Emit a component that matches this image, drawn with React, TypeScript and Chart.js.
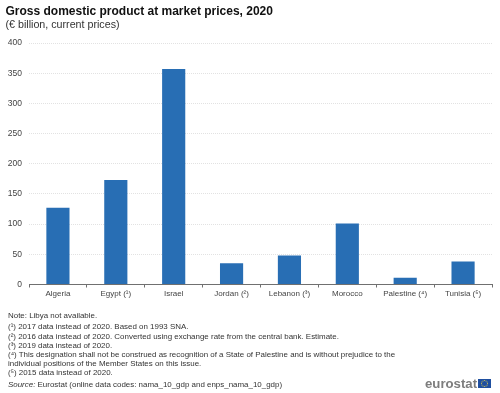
import React, { useEffect, useRef } from "react";
import { Chart, registerables } from "chart.js";

Chart.register(...registerables);

const categories = ["Algeria", "Egypt (¹)", "Israel", "Jordan (²)", "Lebanon (³)", "Morocco", "Palestine (⁴)", "Tunisia (⁵)"];
const gdpValues = [127, 173, 357, 35, 48, 101, 11, 38];
const yTicks = [0, 50, 100, 150, 200, 250, 300, 350, 400];
const titleText = "Gross domestic product at market prices, 2020";
const subtitleText = "(€ billion, current prices)";
const noteLines = [
  "(¹) 2017 data instead of 2020. Based on 1993 SNA.",
  "(²) 2016 data instead of 2020. Converted using exchange rate from the central bank. Estimate.",
  "(³) 2019 data instead of 2020.",
  "(⁴) This designation shall not be construed as recognition of a State of Palestine and is without prejudice to the",
  "individual positions of the Member States on this issue.",
  "(⁵) 2015 data instead of 2020.",
];
const font = '"Liberation Sans", Arial, sans-serif';

const txt = (top: number, left: number, size: number, extra: React.CSSProperties = {}): React.CSSProperties => ({
  position: "absolute", top, left, fontSize: size, lineHeight: "12px", whiteSpace: "nowrap", color: "#333", fontFamily: font, ...extra,
});

export default function App() {
  const ref = useRef<HTMLCanvasElement>(null);
  useEffect(() => {
    const chart = new Chart(ref.current!, {
      type: "bar",
      data: {
        labels: categories,
        datasets: [{ data: gdpValues, backgroundColor: "#286EB4", barPercentage: 0.4, categoryPercentage: 1 }],
      },
      options: {
        responsive: false,
        animation: false,
        layout: { padding: { top: 43, right: 8, left: 0, bottom: 0 } },
        plugins: { legend: { display: false }, tooltip: { enabled: false } },
        scales: {
          x: {
            afterFit: (s: any) => { s.height = 393 - 284.5; },
            grid: { display: true, drawOnChartArea: false, drawTicks: true, tickLength: 3, color: "#707070", offset: true },
            border: { color: "#707070" },
            ticks: { color: "#444", font: { family: font, size: 8 }, maxRotation: 0, autoSkip: false, padding: 1 },
          },
          y: {
            min: 0, max: 400,
            afterFit: (s: any) => { s.width = 29; },
            afterBuildTicks: (s: any) => { s.ticks = yTicks.map((value) => ({ value })); },
            grid: { color: "#E2E2E2", drawTicks: false },
            border: { display: false, dash: [1, 1] },
            ticks: { color: "#444", font: { family: font, size: 8.5 }, padding: 7 },
          },
        },
      },
    });
    return () => chart.destroy();
  }, []);

  const stars = Array.from({ length: 12 }, (_, i) => i);
  return (
    <div style={{ position: "absolute", left: 0, top: 0, width: 500, height: 393, background: "#fff", overflow: "hidden" }}>
      <canvas ref={ref} width={500} height={393} style={{ position: "absolute", left: 0, top: 0, display: "block" }} />
      <div style={txt(5, 5.5, 12, { fontWeight: 700, color: "#111" })}>{titleText}</div>
      <div style={txt(18, 5.5, 10.7)}>{subtitleText}</div>
      <div style={txt(310, 8, 7.95)}>Note: Libya not available.</div>
      {noteLines.map((l, i) => (
        <div key={i} style={txt([320.7, 330.7, 339.7, 349, 358, 366.7][i], 8, 7.95)}>{l}</div>
      ))}
      <div style={txt(379, 8, 7.95)}><i>Source:</i> Eurostat (online data codes: nama_10_gdp and enps_nama_10_gdp)</div>
      <div style={txt(377, 425, 13.2, { fontWeight: 700, color: "#7d7d7d", lineHeight: "14px" })}>eurostat</div>
      <svg width={13} height={9} style={{ position: "absolute", left: 478, top: 379 }}>
        <rect width={13} height={9} fill="#1f4fa0" />
        {stars.map((i) => (
          <circle key={i} cx={6.5 + 3 * Math.cos((i * Math.PI) / 6)} cy={4.5 + 3 * Math.sin((i * Math.PI) / 6)} r={0.5} fill="#e8d44a" />
        ))}
      </svg>
    </div>
  );
}
